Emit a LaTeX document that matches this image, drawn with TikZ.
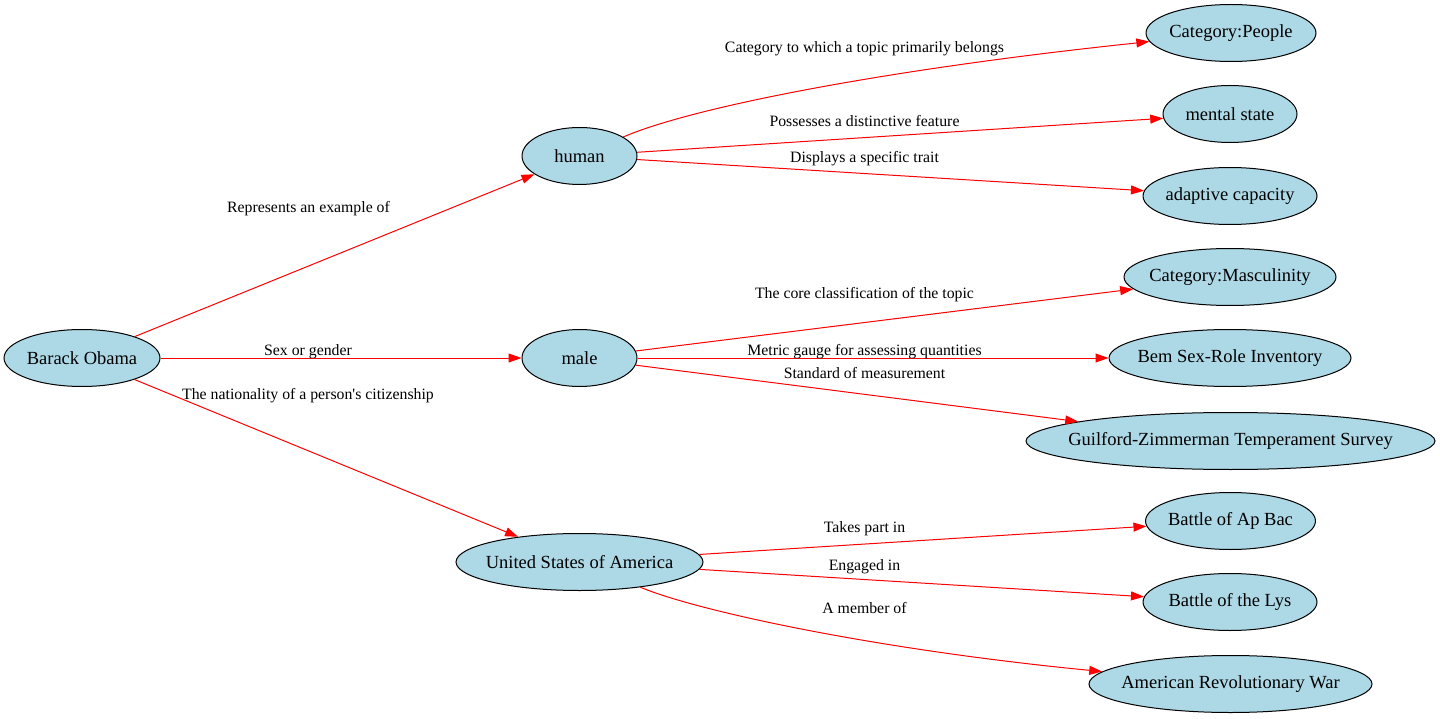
\documentclass[tikz,border=0pt]{standalone}
\usepackage{fontspec}
\setmainfont{Liberation Serif}[Ligatures=TeXOff]
\usetikzlibrary{shapes.geometric,arrows.meta}
\definecolor{lb}{RGB}{173,216,230}
\newcommand\myentfont{\fontsize{18.5}{22}\selectfont}
\newcommand\myrelfont{\fontsize{15.8}{19}\selectfont}
\newcommand\nt[1]{\makebox[0pt][c]{#1}}
\begin{document}
\begin{tikzpicture}[x=1pt,y=-1pt,
  ent/.style={ellipse, draw=black, line width=1pt, fill=lb, minimum height=57pt, inner sep=0pt, font=\myentfont},
  rel/.style={draw=red, line width=1pt, -{Triangle[length=13pt,width=9pt,fill=red]}},
  lbl/.style={font=\myrelfont, inner sep=0pt, text=black}]
\useasboundingbox (0,0) rectangle (1440,719);
% nodes
\node[ent, minimum width=156pt] (obama) at (82,358) {\nt{Barack Obama}};
\node[ent, minimum width=115pt] (human) at (579.5,156) {\nt{human}};
\node[ent, minimum width=115pt] (male) at (579.5,358) {\nt{male}};
\node[ent, minimum width=247pt] (usa) at (579.5,562) {\nt{United States of America}};
\node[ent, minimum width=170pt] (catp) at (1231,33) {\nt{Category:People}};
\node[ent, minimum width=134pt] (mental) at (1230,114) {\nt{mental state}};
\node[ent, minimum width=174pt] (adapt) at (1230,196) {\nt{adaptive capacity}};
\node[ent, minimum width=212pt] (catm) at (1230,277) {\nt{Category:Masculinity}};
\node[ent, minimum width=242pt] (bem) at (1230,358) {\nt{Bem Sex-Role Inventory}};
\node[ent, minimum width=409pt] (gz) at (1230.5,441) {\nt{Guilford-Zimmerman Temperament Survey}};
\node[ent, minimum width=170pt] (apbac) at (1230.5,521) {\nt{Battle of Ap Bac}};
\node[ent, minimum width=174pt] (lys) at (1230,602) {\nt{Battle of the Lys}};
\node[ent, minimum width=283pt] (arw) at (1230.5,684) {\nt{American Revolutionary War}};
% edges
\draw[rel] (obama) -- (human);
\draw[rel] (obama) -- (male);
\draw[rel] (obama) -- (usa);
\draw[rel] (human) .. controls (690,108) and (880,70) .. (catp);
\draw[rel] (human) -- (mental);
\draw[rel] (human) -- (adapt);
\draw[rel] (male) -- (catm);
\draw[rel] (male) -- (bem);
\draw[rel] (male) -- (gz);
\draw[rel] (usa) -- (apbac);
\draw[rel] (usa) -- (lys);
\draw[rel] (usa) .. controls (700,612) and (880,650) .. (arw);
% edge labels
\node[lbl] (l1) at (308.5,209) {Represents an example of};
\node[lbl] (l2) at (308,351.5) {Sex or gender};
\node[lbl] (l3) at (308,396) {The nationality of a person's citizenship};
\node[lbl] (l4) at (864.5,49) {Category to which a topic primarily belongs};
\node[lbl] (l5) at (864.5,121) {Possesses a distinctive feature};
\node[lbl] (l6) at (864.5,159) {Displays a specific trait};
\node[lbl] (l7) at (864.5,295) {The core classification of the topic};
\node[lbl] (l8) at (864.5,351.5) {Metric gauge for assessing quantities};
\node[lbl] (l9) at (864.5,373) {Standard of measurement};
\node[lbl] (l10) at (864.5,529) {Takes part in};
\node[lbl] (l11) at (864.5,567) {Engaged in};
\node[lbl] (l12) at (864.5,608) {A member of};
\end{tikzpicture}
\end{document}
